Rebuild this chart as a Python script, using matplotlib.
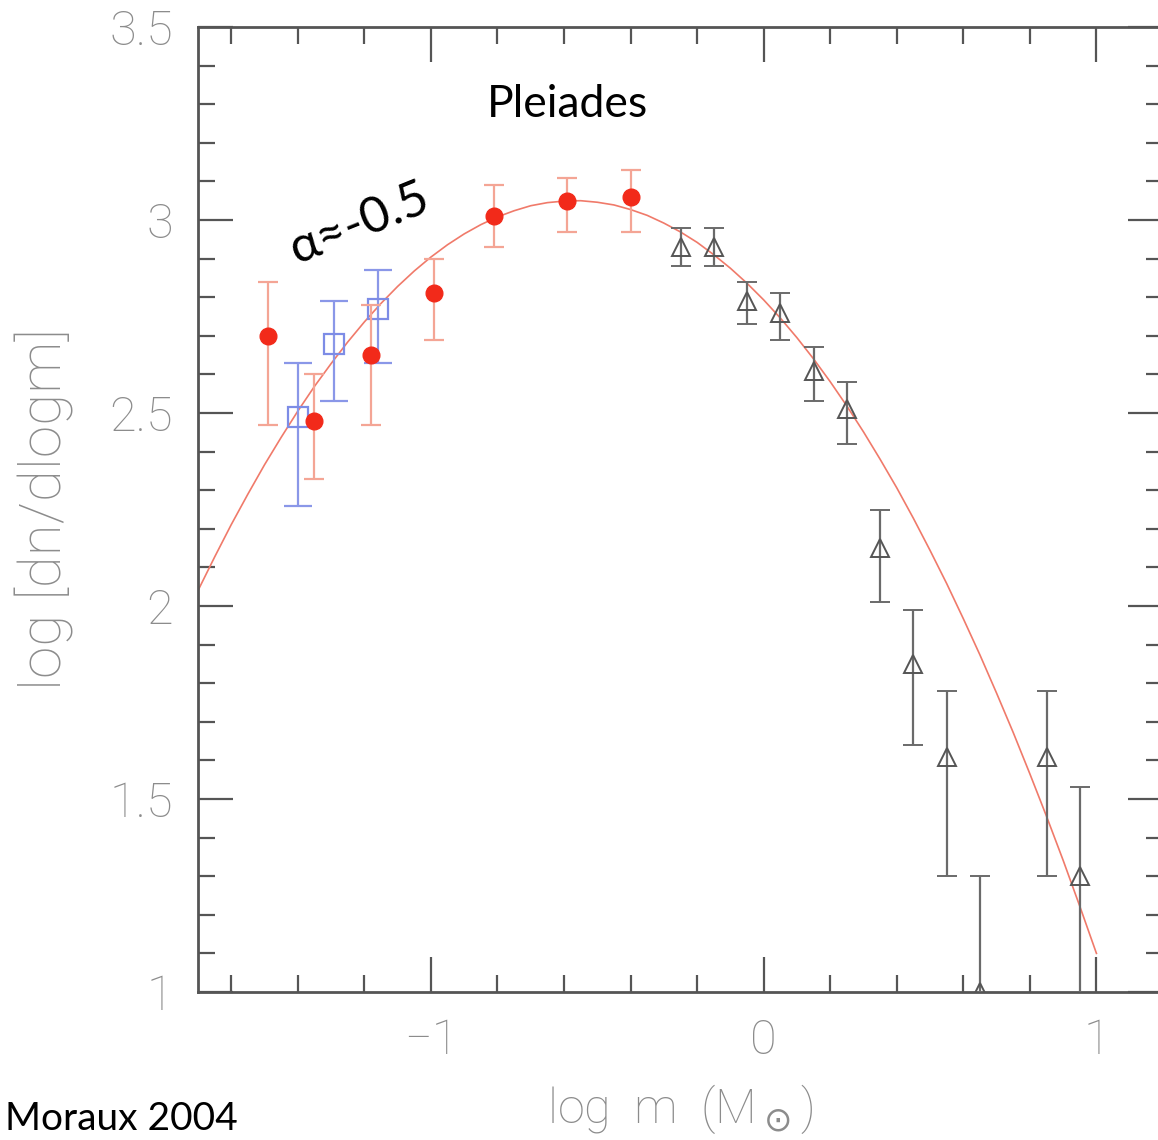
import matplotlib
matplotlib.use("Agg")
import matplotlib.pyplot as plt
from matplotlib.ticker import MultipleLocator, FuncFormatter

# ---- data ----
x_red = [-1.49, -1.35, -1.18, -0.99, -0.81, -0.59, -0.40]
y_red = [2.70, 2.48, 2.65, 2.81, 3.01, 3.05, 3.06]
red_up = [0.14, 0.12, 0.13, 0.09, 0.08, 0.06, 0.07]
red_dn = [0.23, 0.15, 0.18, 0.12, 0.08, 0.08, 0.09]

x_blue = [-1.40, -1.29, -1.16]
y_blue = [2.49, 2.68, 2.77]
blue_up = [0.14, 0.11, 0.10]
blue_dn = [0.23, 0.15, 0.14]

x_tri = [-0.25, -0.15, -0.05, 0.05, 0.15, 0.25, 0.35, 0.45, 0.55, 0.65, 0.85, 0.95]
y_tri = [2.93, 2.93, 2.79, 2.76, 2.61, 2.51, 2.15, 1.85, 1.61, 1.00, 1.61, 1.30]
tri_up = [0.05, 0.05, 0.05, 0.05, 0.06, 0.07, 0.10, 0.14, 0.17, 0.30, 0.17, 0.23]
tri_dn = [0.05, 0.05, 0.06, 0.07, 0.08, 0.09, 0.14, 0.21, 0.31, 0.50, 0.31, 0.50]

# lognormal fit curve, sampled along the picture
curve_x = [-1.70, -1.65, -1.60, -1.55, -1.50, -1.45, -1.40, -1.35, -1.30, -1.25,
           -1.20, -1.15, -1.10, -1.05, -1.00, -0.95, -0.90, -0.85, -0.80, -0.75,
           -0.70, -0.65, -0.60, -0.55, -0.50, -0.45, -0.40, -0.35, -0.30, -0.25,
           -0.20, -0.15, -0.10, -0.05, 0.00, 0.05, 0.10, 0.15, 0.20, 0.25,
           0.30, 0.35, 0.40, 0.45, 0.50, 0.55, 0.60, 0.65, 0.70, 0.75,
           0.80, 0.85, 0.90, 0.95, 1.00]
curve_y = [2.040, 2.127, 2.211, 2.290, 2.366, 2.437, 2.505, 2.569, 2.628, 2.684,
           2.736, 2.784, 2.828, 2.868, 2.904, 2.936, 2.964, 2.988, 3.008, 3.024,
           3.037, 3.045, 3.049, 3.050, 3.046, 3.039, 3.027, 3.012, 2.992, 2.969,
           2.942, 2.910, 2.875, 2.836, 2.793, 2.746, 2.695, 2.640, 2.581, 2.518,
           2.451, 2.380, 2.306, 2.227, 2.144, 2.058, 1.967, 1.873, 1.774, 1.672,
           1.565, 1.455, 1.341, 1.222, 1.100]

# ---- style ----
W, H = 1158, 1140
fig = plt.figure(figsize=(W / 100, H / 100), dpi=100)
ax = fig.add_axes([198 / W, 148 / H, (1163 - 198) / W, (992 - 27) / H])

axis_col = "#555555"
lab_col = "#8c8c8c"
thin_family = ["Roboto", "DejaVu Sans"]

ax.plot(curve_x, curve_y, color="#f07a6a", lw=1.2, zorder=2)

ax.errorbar(x_red, y_red, yerr=[red_dn, red_up], fmt="o", ms=12,
            mfc="#f22a1a", mec="#f22a1a", ecolor="#f4a595", elinewidth=1.6,
            capsize=7, capthick=1.6, zorder=4)
ax.errorbar(x_blue, y_blue, yerr=[blue_dn, blue_up], fmt="s", ms=14,
            mfc="none", mec="#7d8ce6", mew=1.6, ecolor="#8a97e8",
            elinewidth=1.6, capsize=10, capthick=1.6, zorder=3)
ax.errorbar(x_tri, y_tri, yerr=[tri_dn, tri_up], fmt="^", ms=13,
            mfc="none", mec="#555555", mew=1.4, ecolor="#6a6a6a",
            elinewidth=1.6, capsize=7.5, capthick=1.6, zorder=3)

ax.set_xlim(-1.7, 1.2)
ax.set_ylim(1.0, 3.5)
ax.xaxis.set_major_locator(MultipleLocator(1))
ax.xaxis.set_minor_locator(MultipleLocator(0.2))
ax.yaxis.set_major_locator(MultipleLocator(0.5))
ax.yaxis.set_minor_locator(MultipleLocator(0.1))
ax.yaxis.set_major_formatter(FuncFormatter(lambda v, p: ("%g" % v)))
ax.xaxis.set_major_formatter(FuncFormatter(lambda v, p: ("%g" % v).replace("-", "\u2212")))

for s in ax.spines.values():
    s.set_color(axis_col)
    s.set_linewidth(2.0)
ax.tick_params(which="both", direction="in", top=True, right=True,
               color=axis_col, width=1.6, labelcolor=lab_col)
ax.tick_params(which="major", length=25, labelsize=35)
ax.tick_params(axis="y", which="major", pad=18)
ax.tick_params(axis="x", which="major", pad=18)
ax.tick_params(which="minor", length=12.5)
for lbl in ax.get_xticklabels() + ax.get_yticklabels():
    lbl.set_family(thin_family)
    lbl.set_weight("light")

ax.set_ylabel("log [dn/dlogm]", fontsize=42, color=lab_col,
              family=thin_family, weight="light")
ax.yaxis.set_label_coords(-0.128, 0.5)
ax.set_xlabel(r"log  m  (M$_\odot$)", fontsize=35, color=lab_col,
              family=thin_family, weight="light", labelpad=14)

ax.text(-0.59, 3.298, "Pleiades", fontsize=32, color="black",
        family=["Lato", "DejaVu Sans"], ha="center", va="center")
ax.text(-1.214, 2.99, "\u03b1\u2248-0.5", fontsize=36, color="black",
        family=["Lato", "DejaVu Sans"], ha="center", va="center",
        rotation=22, rotation_mode="anchor")
fig.text(5 / W, 10 / H, "Moraux 2004", fontsize=28, color="black",
         family=["Lato", "DejaVu Sans"], ha="left", va="baseline")

fig.savefig("out.png", dpi=100)
